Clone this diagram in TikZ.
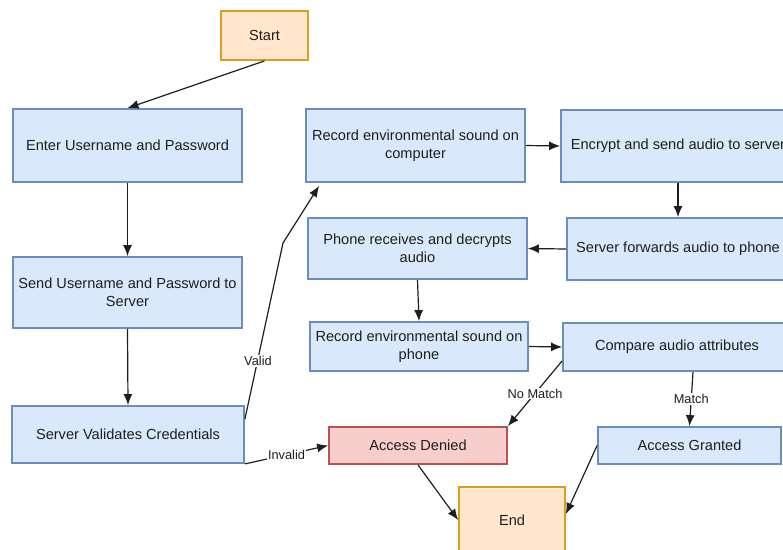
\documentclass[tikz,border=0pt]{standalone}
\usepackage{fontspec}
\setmainfont{Liberation Sans}
\usetikzlibrary{arrows.meta}
\definecolor{bluefill}{HTML}{DAE8FC}
\definecolor{bluedraw}{HTML}{6C8EBF}
\definecolor{orangefill}{HTML}{FFE6CC}
\definecolor{orangedraw}{HTML}{D7A020}
\definecolor{redfill}{HTML}{F8CECC}
\definecolor{reddraw}{HTML}{B85450}
\definecolor{ink}{HTML}{1E1E1E}
\tikzset{
  box/.style={draw=bluedraw, fill=bluefill, line width=1.8pt, rectangle,
    align=center, inner sep=0pt, text=ink,
    font=\fontsize{14.6}{18}\selectfont},
  terminal/.style={box, draw=orangedraw, fill=orangefill},
  denybox/.style={box, draw=reddraw, fill=redfill},
  flow/.style={draw=ink, line width=1.2pt, -{Latex[length=11pt,width=9pt]}},
  lbl/.style={fill=white, inner sep=1pt, text=ink,
    font=\fontsize{12.8}{14}\selectfont},
}
\begin{document}
\begin{tikzpicture}[x=1pt, y=-1pt]
\useasboundingbox (0,0) rectangle (783,549);
\clip (0,0) rectangle (783,549);

% process boxes
\node[terminal, minimum width=87pt, minimum height=49pt] (start) at (264.5,35.5) {Start};
\node[box, minimum width=229pt, minimum height=73pt] (enter) at (127.5,145.5) {Enter Username and Password};
\node[box, minimum width=229pt, minimum height=71pt] (send) at (127.5,292.5) {Send Username and Password to\\Server};
\node[box, minimum width=232pt, minimum height=57pt] (validate) at (128,434.5) {Server Validates Credentials};
\node[box, minimum width=219pt, minimum height=73pt] (recc) at (415.5,145.5) {Record environmental sound on\\computer};
\node[box, minimum width=234pt, minimum height=72pt] (encrypt) at (678,146) {Encrypt and send audio to server};
\node[box, minimum width=222pt, minimum height=62pt] (forward) at (678,249) {Server forwards audio to phone};
\node[box, minimum width=219pt, minimum height=61pt] (phone) at (417.5,248.5) {Phone receives and decrypts\\audio};
\node[box, minimum width=218pt, minimum height=49pt] (recp) at (419,346.5) {Record environmental sound on\\phone};
\node[box, minimum width=228pt, minimum height=48pt] (compare) at (677,347) {Compare audio attributes};
\node[denybox, minimum width=178pt, minimum height=37pt] (denied) at (418,445.5) {Access Denied};
\node[box, minimum width=183pt, minimum height=37pt] (granted) at (689.5,445.5) {Access Granted};
\node[terminal, minimum width=106pt, minimum height=66pt] (end) at (512,520) {End};

% connectors
\draw[flow] (start.south) -- (enter.north);
\draw[flow] (enter.south) -- (send.north);
\draw[flow] (send.south) -- (validate.north);
\draw[flow] ([yshift=-14pt]validate.north east) -- (283,243)
  -- ([xshift=14pt,yshift=-3pt]recc.south west);
\node[lbl] (validlbl) at (258,361) {Valid};
\draw[flow] (validate.south east) -- node[lbl] (invalidlbl) {Invalid} (denied.west);
\draw[flow] (recc.east) -- (encrypt.west);
\draw[flow] (encrypt.south) -- (forward.north);
\draw[flow] (forward.west) -- (phone.east);
\draw[flow] (phone.south) -- (recp.north);
\draw[flow] (recp.east) -- (compare.west);
\draw[flow] ([yshift=11pt]compare.south west) -- node[lbl] (nomatchlbl) {No Match} (denied.north east);
\draw[flow] ([xshift=16pt]compare.south) -- node[lbl] (matchlbl) {Match} (granted.north);
\draw[flow] (denied.south) -- (end.west);
\draw[flow] (granted.west) -- ([yshift=6pt]end.east);
\end{tikzpicture}
\end{document}
